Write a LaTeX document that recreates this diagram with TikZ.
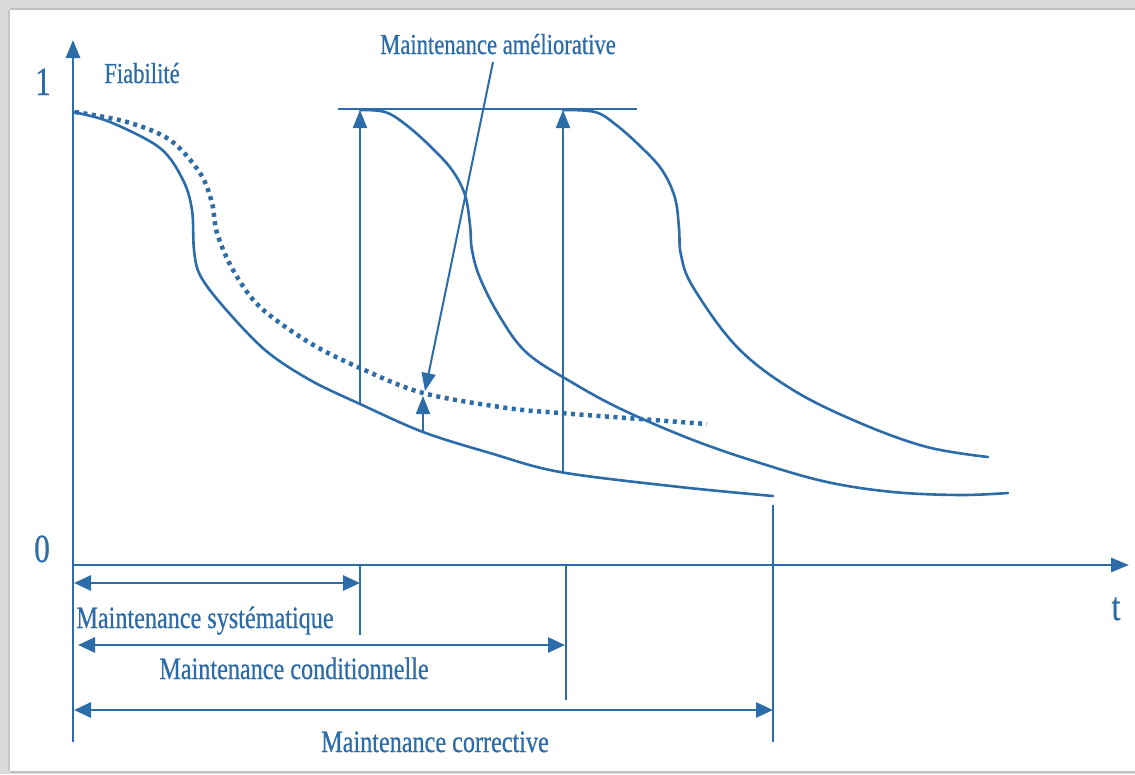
\documentclass[tikz,border=0pt]{standalone}
\usepackage{fontspec}
\setmainfont{Liberation Serif}
\newfontfamily\cond[FakeStretch=0.78,FakeBold=0.6]{Liberation Serif}
\usetikzlibrary{arrows.meta}
\definecolor{ink}{RGB}{44,108,168}
\begin{document}
\begin{tikzpicture}[x=1pt,y=-1pt,
  curve/.style={draw=ink,line width=2.6pt,line cap=round,line join=round},
  thinline/.style={draw=ink,line width=2pt},
  axisline/.style={draw=ink,line width=2.8pt},
  dots/.style={draw=ink,line width=4.5pt,dash pattern=on 4pt off 4.5pt},
  uptip/.style={-{Triangle[length=18pt,width=14pt]}},
  both/.style={{Triangle[length=17pt,width=15pt]}-{Triangle[length=17pt,width=15pt]}},
  lbl/.style={text=ink,font=\cond\fontsize{31}{33}\selectfont,inner sep=0pt,anchor=base},
  lbls/.style={text=ink,font=\cond\fontsize{29}{31}\selectfont,inner sep=0pt,anchor=base},
  num/.style={text=ink,font=\cond\fontsize{40}{42}\selectfont,inner sep=0pt,anchor=base},
]
\useasboundingbox (0,0) rectangle (1135,774);
% frame
\fill[gray!28] (0,0) rectangle (1135,774);
\fill[white] (10,10) rectangle (1135,771);
\draw[gray!50,line width=1.5pt] (10,9) -- (1135,9);
\draw[gray!45,line width=1.5pt] (9,10) -- (9,771);
\draw[gray!50,line width=1.5pt] (10,772) -- (1135,772);

% coordinates
\coordinate (O) at (73,565);
\coordinate (Ytop) at (73,40);
\coordinate (Ybot) at (73,742);
\coordinate (Xend) at (1129,565);
\coordinate (T1) at (338,109);
\coordinate (T2) at (637,109);
\coordinate (A1b) at (360,404);
\coordinate (A1t) at (360,110);
\coordinate (A2b) at (563,472);
\coordinate (A2t) at (563,110);
\coordinate (M1) at (493,62);
\coordinate (M2) at (425,391);
\coordinate (U1) at (423,432);
\coordinate (U2) at (423,396);

% axes
\draw[axisline,uptip] (Ybot) -- (Ytop);
\draw[axisline,uptip] (O) -- (Xend);

% top level line
\draw[axisline] (T1) -- (T2);

% curves
\draw[curve] plot[smooth,tension=0.55] coordinates {(73,112) (110,122) (160,148) (183,180) (192,210) (194,250) (200,275) (222,305) (265,350) (310,380) (360,404) (423,432) (490,453) (560,472) (680,487) (773,496)};
\draw[dots] plot[smooth,tension=0.55] coordinates {(75,112) (127,122) (170,140) (200,173) (212,203) (217,233) (233,270) (260,307) (310,343) (360,368) (423,393) (507,408) (560,413) (640,419) (707,424)};
\draw[curve] plot[smooth,tension=0.6] coordinates {(360,110) (385,112) (405,124) (430,146) (452,170) (465,195) (470,225) (472,250) (480,278) (500,317) (527,353) (573,383) (623,410) (693,440) (760,463) (827,482) (893,492) (960,495) (1008,493)};
\draw[curve] plot[smooth,tension=0.6] coordinates {(563,110) (595,112) (615,124) (640,146) (662,170) (675,198) (679,228) (681,255) (693,287) (737,347) (793,390) (860,423) (927,447) (988,457)};

% vertical arrows
\draw[thinline,uptip] (A1b) -- (A1t);
\draw[thinline,uptip] (A2b) -- (A2t);
\draw[thinline,-{Triangle[length=18pt,width=14pt]}] (M1) -- (M2);
\draw[thinline,uptip] (U1) -- (U2);

% ticks below axis
\draw[thinline] (360,565) -- (360,635);
\draw[thinline] (566,565) -- (566,700);
\draw[thinline] (773,505) -- (773,742);

% interval arrows
\draw[axisline,both] (74,583) -- (360,583);
\draw[axisline,both] (78,645) -- (565,645);
\draw[axisline,both] (74,710) -- (773,710);

% labels
\node[lbls] (fia) at (142,83) {Fiabilité};
\node[lbls] (ame) at (498,54) {Maintenance améliorative};
\node[num] (one) at (43,95) {1};
\node[num] (zero) at (42,562) {0};
\node[num] (tt) at (1116,620) {t};
\node[lbl] (sys) at (205,628) {Maintenance systématique};
\node[lbl] (con) at (294,679) {Maintenance conditionnelle};
\node[lbl] (cor) at (435,752) {Maintenance corrective};
\end{tikzpicture}
\end{document}
